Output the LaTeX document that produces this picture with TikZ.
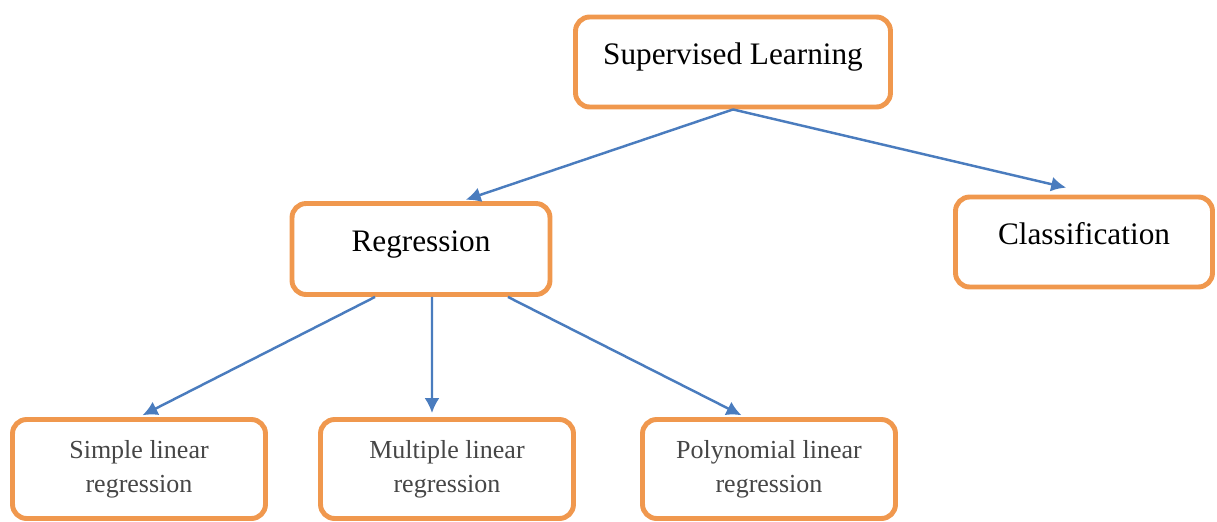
\documentclass[tikz,border=0pt]{standalone}
\usepackage{fontspec}
\setmainfont{Liberation Serif}
\usepackage{tikz}
\usetikzlibrary{arrows.meta}
\definecolor{boxorange}{RGB}{240,152,78}
\definecolor{arrowblue}{RGB}{74,124,190}
\definecolor{leafgray}{RGB}{70,70,70}
\tikzset{
  topbox/.style={
    rectangle,
    rounded corners=8pt,
    minimum width=5.15cm,
    minimum height=1.8cm,
    inner sep=0pt,
    align=center,
    draw=boxorange,
    line width=2.8pt,
    fill=white,
    font=\fontsize{17.8}{20}\selectfont,
    text height=0.7em,
    text depth=0.45em
    },
  leafbox/.style={
    rectangle,
    rounded corners=8pt,
    minimum width=5.06cm,
    minimum height=1.98cm,
    inner sep=0pt,
    align=center,
    draw=boxorange,
    line width=2.8pt,
    fill=white,
    text=leafgray,
    font=\fontsize{14.8}{19.6}\selectfont
    },
  arrow/.style={draw=arrowblue, line width=1.4pt, ->, shorten >=0.08cm},
}

\begin{document}
\begin{tikzpicture}[
            x = 0.02cm, y = -0.02cm, % pixel grid of the reference
            > = {Latex[length=8.5pt,width=8.5pt]} % arrow head style
        ]
         \useasboundingbox (0,0) rectangle (1217,521);

         \node[topbox, minimum width=6.3cm] (sup) at (733,62) {Supervised Learning};
         \node[topbox, minimum width=5.16cm, minimum height=1.82cm] (reg) at (421,249) {Regression};
         \node[topbox, minimum width=5.14cm] (cls) at (1084,242) {Classification};

         \node[leafbox] (slr) at (139,469) {Simple linear\\regression};
         \node[leafbox] (mlr) at (447,469) {Multiple linear\\regression};
         \node[leafbox] (plr) at (769,469) {Polynomial linear\\regression};

         \path[arrow] (sup.south) -- ([xshift=0.82cm]reg.north);
         \path[arrow] (sup.south) -- ([xshift=-0.28cm, yshift=0.12cm]cls.north);
         \path[arrow] ([xshift=-0.92cm]reg.south) -- (slr.north);
         \path[arrow] ([xshift=0.22cm]reg.south) -- ([xshift=-0.3cm]mlr.north);
         \path[arrow] ([xshift=1.74cm]reg.south) -- ([xshift=-0.48cm]plr.north);
\end{tikzpicture}
\end{document}
